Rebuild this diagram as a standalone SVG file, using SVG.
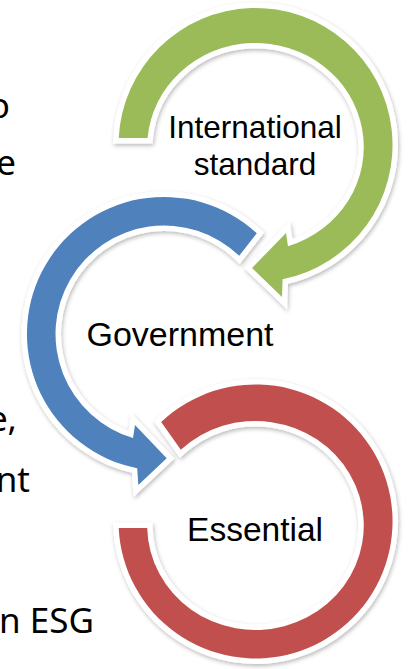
<svg xmlns="http://www.w3.org/2000/svg" width="408" height="669" viewBox="0 0 408 669">
<style>
.arc{stroke:#fff;stroke-width:11;stroke-linejoin:miter;stroke-miterlimit:3;paint-order:stroke;filter:url(#sh)}
.lbl{font-family:"Liberation Sans",Arial,sans-serif;fill:#000;text-anchor:middle}
.side{font-family:"Noto Sans","Noto Sans CJK KR",sans-serif;font-size:35px;fill:#000;text-anchor:end}
</style>
<defs>
<filter id="sh" x="-20%" y="-20%" width="140%" height="140%">
<feDropShadow dx="1" dy="2" stdDeviation="2" flood-color="#000" flood-opacity="0.28"/>
</filter>
</defs>
<rect width="408" height="669" fill="#fff"/>
<g id="side-text">
<text class="side" x="10" y="118">o</text>
<text class="side" x="16" y="175">e</text>
<text class="side" x="17" y="431">e,</text>
<text class="side" x="30" y="492">nt</text>
<text class="side" x="94" y="633">n ESG</text>
</g>
<g id="connectors"></g>
<g id="international">
<path class="arc" fill="#9BBB59" d="M118.7 138 A137 137 0 1 1 282.6 279.3 L282 297 L252 268 L286 233 L288 246.2 A108.3 104 0 1 0 147.6 138 Z"/>
<text class="lbl" x="255" y="138" font-size="31.5">International</text>
<text class="lbl" x="255" y="175" font-size="31.5">standard</text>
</g>
<g id="government">
<path class="arc" fill="#4F81BD" d="M256.8 233.2 A137 137 0 1 0 137.2 468.3 L138.3 485 L166.7 458.3 L135 425 L133 438 A108.5 108.5 0 1 1 239.2 255.8 Z"/>
<text class="lbl" x="180" y="346" font-size="34">Government</text>
</g>
<g id="essential">
<path class="arc" fill="#C0504D" d="M161.2 422.1 A137 137 0 1 1 118.7 528 L147.2 528 A108.3 104.5 0 1 0 180.8 449.8 Z"/>
<text class="lbl" x="255" y="541" font-size="33.5">Essential</text>
</g>
</svg>
